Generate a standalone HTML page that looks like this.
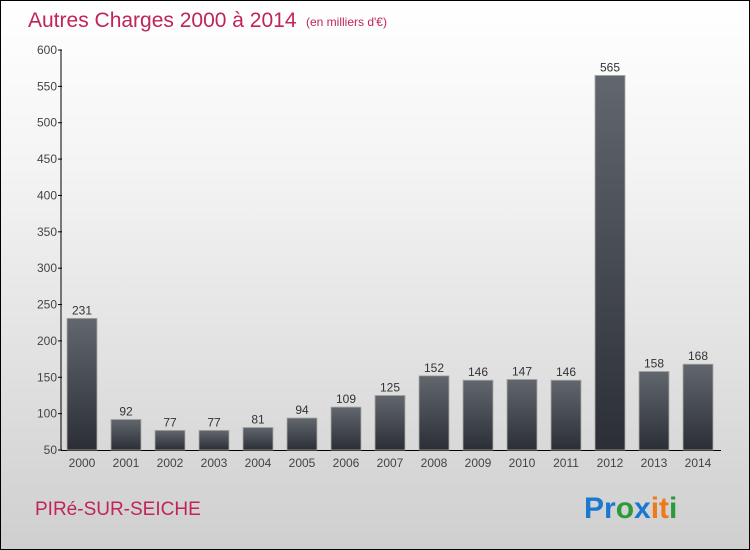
<!DOCTYPE html>
<html><head><meta charset="utf-8"><style>
body{margin:0}
#c{position:relative;width:748px;height:548px;border:1px solid #000;background:linear-gradient(#ffffff,#f4f4f4 30%,#cfcfcf);font-family:"Liberation Sans",sans-serif;overflow:hidden}
</style></head><body>
<div id="c">
<svg id="s" width="748" height="548" style="position:absolute;left:0;top:0">
<defs><linearGradient id="bg" x1="0" y1="0" x2="0" y2="1"><stop offset="0" stop-color="#62676e"/><stop offset="1" stop-color="#2b2f35"/></linearGradient></defs>
<text x="27" y="26" font-size="21" fill="#c0245a">Autres Charges 2000 à 2014</text>
<text x="305" y="25" font-size="12" fill="#c0245a">(en milliers d'€)</text>
<text x="34" y="514" font-size="19" fill="#c0245a">PIRé-SUR-SEICHE</text>
<g font-size="30" font-weight="bold" font-family="Liberation Sans, sans-serif">
<text x="583" y="517"><tspan fill="#1a78d0">Pr</tspan><tspan fill="#2a9a3a">o</tspan><tspan fill="#1a78d0">x</tspan><tspan fill="#f07818">i</tspan><tspan fill="#f07818">t</tspan><tspan fill="#2a9a3a">i</tspan></text>
</g>
<g id="g"></g>
</svg>
</div>
<script>
const categories=["2000","2001","2002","2003","2004","2005","2006","2007","2008","2009","2010","2011","2012","2013","2014"];
const values=[231,92,77,77,81,94,109,125,152,146,147,146,565,158,168];
const ticks=[50,100,150,200,250,300,350,400,450,500,550,600];
const NS="http://www.w3.org/2000/svg";
const g=document.getElementById('g');
const y=v=>449-(v-50)*(400/550);
const x=i=>59+22+i*44;
function el(t,a,txt){const e=document.createElementNS(NS,t);for(const k in a)e.setAttribute(k,a[k]);if(txt!==undefined)e.textContent=txt;g.appendChild(e);return e;}
let ax=el('line',{x1:60,y1:y(600),x2:60,y2:449,stroke:'#000'});


let xa=el('line',{x1:60,y1:449.5,x2:720,y2:449.5,stroke:'#000'});


ticks.forEach(t=>{
 let tk=el('line',{x1:57,y1:y(t),x2:61,y2:y(t),stroke:'#000'});
 
 
 let l=el('text',{x:56,y:y(t)+4,'font-size':12,fill:'#444','text-anchor':'end'},t);
 
 
});
categories.forEach((c,i)=>{
 let b=el('rect',{x:x(i)-15,y:y(values[i]),width:30,height:449-y(values[i]),fill:'url(#bg)',stroke:'#aaa','stroke-width':0.8});
 
 
 let v=el('text',{x:x(i),y:y(values[i])-4,'font-size':12,fill:'#333','text-anchor':'middle'},values[i]);
 
 
 let l=el('text',{x:x(i),y:466,'font-size':12,fill:'#444','text-anchor':'middle'},c);
 
 
});
</script>
</body></html>
